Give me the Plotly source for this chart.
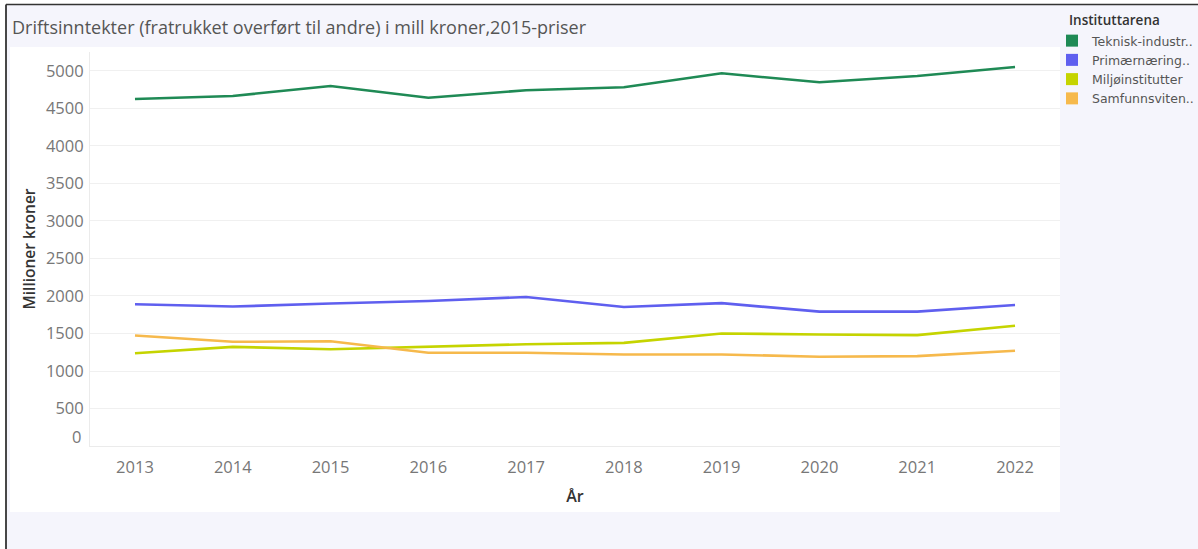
import plotly.graph_objects as go

years = [2013, 2014, 2015, 2016, 2017, 2018, 2019, 2020, 2021, 2022]
teknisk = [4627, 4667, 4800, 4644, 4743, 4783, 4969, 4849, 4933, 5053]
primaer = [1890, 1859, 1899, 1934, 1987, 1853, 1905, 1791, 1791, 1880]
miljo = [1237, 1322, 1290, 1326, 1357, 1375, 1500, 1487, 1478, 1603]
samfunn = [1473, 1389, 1397, 1243, 1243, 1220, 1220, 1190, 1198, 1270]

series_names = ["Teknisk-industr..", "Primærnæring..", "Miljøinstitutter", "Samfunnsviten.."]
series_values = [teknisk, primaer, miljo, samfunn]
colors = ["#1F8A55", "#5F5FEF", "#C5D400", "#F6B94C"]

y_ticks = [0, 500, 1000, 1500, 2000, 2500, 3000, 3500, 4000, 4500, 5000]

W, H = 1198, 549
L, R, T, B = 90, 138, 52, 103
PW, PH = W - L - R, H - T - B


def px(x):
    return (x - L) / PW


def py(y):
    return (H - B - y) / PH


FONT = "Open Sans"
TICK_FONT = dict(family=FONT, size=16.5, color="#777777")

fig = go.Figure()
for name, vals, col in zip(series_names, series_values, colors):
    fig.add_trace(go.Scatter(x=years, y=vals, mode="lines", name=name,
                             line=dict(color=col, width=2.6), showlegend=False,
                             hovertemplate="%{x}: %{y}<extra>" + name + "</extra>"))
for name, col in zip(series_names, colors):
    fig.add_trace(go.Scatter(x=[None], y=[None], mode="markers", name=name,
                             marker=dict(symbol="square", size=12, color=col),
                             showlegend=True))

shapes = [
    dict(type="rect", xref="paper", yref="paper", x0=px(6), x1=px(W + 5), y0=py(4.5), y1=py(H + 5),
         fillcolor="#F5F5FC", line=dict(width=0), layer="below"),
    dict(type="rect", xref="paper", yref="paper", x0=px(10), x1=px(1060), y0=py(47), y1=py(512),
         fillcolor="#FFFFFF", line=dict(width=0), layer="below"),
    dict(type="line", xref="paper", yref="paper", x0=px(6), x1=px(W + 5), y0=py(4.5), y1=py(4.5),
         line=dict(color="#333333", width=1.6)),
    dict(type="line", xref="paper", yref="paper", x0=px(6), x1=px(6), y0=py(4.5), y1=py(H + 5),
         line=dict(color="#333333", width=1.8)),
]

# tick labels: the lowest one (0) is lifted a little above its gridline, as in the reference
shown_ticks = [v for v in y_ticks if v != 0]
annotations = [
    dict(text="Instituttarena", xref="paper", yref="paper", x=px(1067), y=py(20),
         xanchor="left", yanchor="middle", showarrow=False,
         font=dict(family=FONT, size=13.5, color="#333333", weight=600)),
    dict(text=str(y_ticks[0]), xref="paper", yref="y", x=0, y=y_ticks[0], xshift=-7, yshift=10,
         xanchor="right", yanchor="middle", showarrow=False, font=TICK_FONT),
]

fig.update_layout(
    width=W, height=H,
    margin=dict(l=L, r=R, t=T, b=B, pad=0, autoexpand=False),
    paper_bgcolor="#FFFFFF",
    plot_bgcolor="#FFFFFF",
    font=dict(family=FONT, color="#666666", size=15),
    shapes=shapes,
    annotations=annotations,
    title=dict(text="Driftsinntekter (fratrukket overført til andre) i mill kroner,2015-priser",
               x=12 / W, xanchor="left", xref="container",
               y=1 - 28 / H, yanchor="middle", yref="container",
               font=dict(family=FONT, size=18, color="#555555")),
    xaxis=dict(range=[2012.54, 2022.46], tickvals=years, ticktext=[str(y) for y in years],
               showgrid=False, zeroline=False, showline=True, linecolor="#EBEBEB", linewidth=1,
               ticks="", tickfont=TICK_FONT, ticklabelstandoff=6,
               title=dict(text="År", font=dict(size=16, color="#333333", weight=600), standoff=14)),
    yaxis=dict(range=[0, 5253], tickvals=shown_ticks, ticktext=[str(v) for v in shown_ticks],
               showgrid=True, gridcolor="#F0F0F0", gridwidth=1, zeroline=False,
               showline=True, linecolor="#EBEBEB", linewidth=1,
               ticks="", tickfont=TICK_FONT, ticklabelstandoff=2,
               title=dict(text="Millioner kroner", font=dict(size=15.5, color="#333333", weight=600),
                          standoff=6)),
    legend=dict(x=px(1052), y=py(26), xanchor="left", yanchor="top",
                bgcolor="rgba(0,0,0,0)", borderwidth=0,
                font=dict(family="DejaVu Sans", size=12.5, color="#555555"),
                itemwidth=30, tracegroupgap=0),
    showlegend=True,
)

fig.write_html("out.html", config={"displayModeBar": False},
               post_script="document.body.style.margin='0px';")
